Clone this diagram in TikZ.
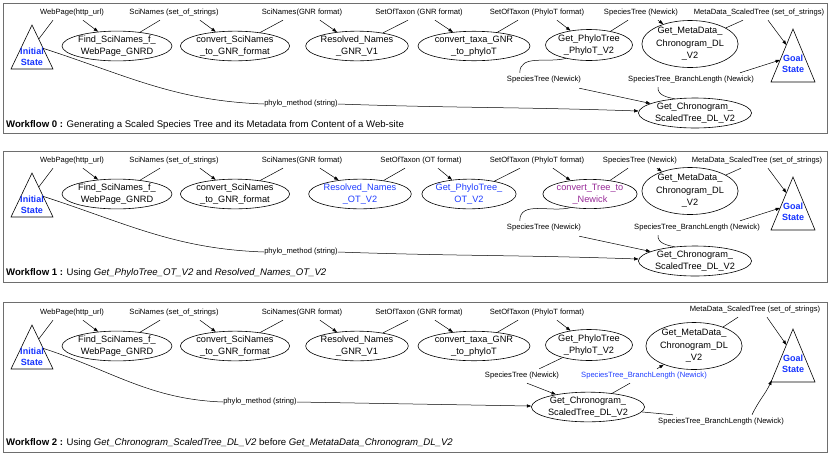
\documentclass[tikz,border=0pt]{standalone}
\usepackage{fontspec}
\setmainfont{Liberation Sans}
\usetikzlibrary{arrows.meta,calc,shapes.geometric}
\definecolor{stblue}{RGB}{20,50,255}
\definecolor{nodeblue}{RGB}{30,60,255}
\definecolor{nodepurple}{RGB}{150,40,150}
\definecolor{panelgray}{RGB}{110,110,110}
\tikzset{
  proc/.style={ellipse, draw, line width=0.6pt, inner sep=0pt, align=center,
    font=\fontsize{9.2}{12.5}\selectfont},
  dlabel/.style={inner sep=0pt, minimum height=14pt, font=\fontsize{7.6}{9}\selectfont},
  conn/.style={line width=0.5pt},
  conarrow/.style={conn, -{Triangle[length=4.5pt,width=3.2pt]}},
  statetext/.style={font=\bfseries\fontsize{9}{10.5}\selectfont, text=stblue, align=center, inner sep=0pt},
  tri/.style={draw, line width=0.6pt, line join=miter},
  panelbox/.style={draw=panelgray, line width=0.9pt},
  captxt/.style={anchor=west, inner sep=0pt, font=\fontsize{9.6}{11}\selectfont}
}
\newcommand{\wfleft}[1]{%
  \coordinate (#1iA) at (32,25);
  \coordinate (#1iL) at (11,69);
  \coordinate (#1iR) at (53,69);
  \draw[tri] (#1iA) -- (#1iL) -- (#1iR) -- cycle;
  \node[statetext] (#1ini) at (32,57) {Initial\\State};
  \coordinate (#1iO1) at ($(#1iA)!0.32!(#1iR)$);
  \coordinate (#1iO2) at ($(#1iA)!0.53!(#1iR)$);
  \node[dlabel] (#1l1) at (72,13) {WebPage(http\_url)};
  \node[proc, minimum width=98pt, minimum height=29pt] (#1e1) at (117,46) {Find\_SciNames\_f\_\\WebPage\_GNRD};
  \node[dlabel] (#1l2) at (174,13) {SciNames (set\_of\_strings)};
  \node[proc, minimum width=96pt, minimum height=29pt] (#1e2) at (235,46) {convert\_SciNames\\\_to\_GNR\_format};
  \node[dlabel] (#1l3) at (302,13) {SciNames(GNR format)};
  \draw[conn] (#1iO1) -- ($(#1l1.south)+(-19,0)$);
  \draw[conarrow] ($(#1l1.south)+(11,0)$) -- (#1e1);
  \draw[conn] (#1e1) -- ($(#1l2.south)+(-14,0)$);
  \draw[conarrow] ($(#1l2.south)+(26,0)$) -- (#1e2);
  \draw[conn] (#1e2) -- ($(#1l3.south)+(-19,0)$);
}
\newcommand{\wfgoal}[1]{%
  \coordinate (#1gA) at (793,29);
  \coordinate (#1gL) at (771,82);
  \coordinate (#1gR) at (815,82);
  \draw[tri] (#1gA) -- (#1gL) -- (#1gR) -- cycle;
  \node[statetext] (#1goal) at (793,64) {Goal\\State};
  \coordinate (#1gI1) at ($(#1gA)!0.3!(#1gL)$);
  \coordinate (#1gI2) at ($(#1gA)!0.585!(#1gL)$);
  \coordinate (#1gI3) at ($(#1gA)!0.97!(#1gL)$);
}
\begin{document}
\begin{tikzpicture}[x=1pt,y=-1pt]
\useasboundingbox (0,0) rectangle (830,456);
% ---------------- Workflow 0 ----------------
\begin{scope}
\draw[panelbox] (3,3) rectangle (827,133);
\wfleft{a}
\node[proc, minimum width=102pt, minimum height=29pt] (ae3) at (357,46) {Resolved\_Names\\\_GNR\_V1};
\node[dlabel] (al4) at (419,13) {SetOfTaxon (GNR format)};
\node[proc, minimum width=112pt, minimum height=29pt] (ae4) at (474,46) {convert\_taxa\_GNR\\\_to\_phyloT};
\node[dlabel] (al5) at (537,13) {SetOfTaxon (PhyloT format)};
\node[proc, minimum width=80pt, minimum height=31pt] (ae5) at (589,45) {Get\_PhyloTree\\\_PhyloT\_V2};
\node[dlabel] (al6) at (641,13) {SpeciesTree (Newick)};
\node[proc, minimum width=84pt, minimum height=45pt] (ae6) at (690,44) {Get\_MetaData\_\\Chronogram\_DL\\\_V2};
\node[dlabel] (al7) at (759,13) {MetaData\_ScaledTree (set\_of\_strings)};
\wfgoal{a}
\node[proc, minimum width=96pt, minimum height=30pt] (ae7) at (695,113) {Get\_Chronogram\_\\ScaledTree\_DL\_V2};
\node[dlabel] (al8) at (544,80) {SpeciesTree (Newick)};
\node[dlabel] (al9) at (691,80) {SpeciesTree\_BranchLength (Newick)};
\node[dlabel] (al10) at (301,104) {phylo\_method (string)};
\draw[conarrow] ($(al3.south)+(18,0)$) -- (ae3);
\draw[conn] (ae3) -- ($(al4.south)+(-11,0)$);
\draw[conarrow] ($(al4.south)+(16,0)$) -- (ae4);
\draw[conn] (ae4) -- ($(al5.south)+(-19,0)$);
\draw[conarrow] ($(al5.south)+(20,0)$) -- (ae5);
\draw[conn] (ae5) -- ($(al6.south)+(-13,0)$);
\draw[conarrow] ($(al6.south)+(17,0)$) -- (ae6);
\draw[conn] (ae6) -- ($(al7.south)+(-16,0)$);
\draw[conarrow] ($(al7.south)+(9,0)$) -- (agI1);
\draw[conn] (aiO2) to[out=-18,in=178] (al10.west);
\draw[conarrow] (al10.east) to[out=-2,in=178] (ae7);
\draw[conn] (ae5.210) to[out=195,in=90] ($(al8.north west)+(13,0)$);
\draw[conarrow] ($(al8.south east)+(-2,1)$) -- (ae7);
\draw[conn] (ae7.145) to[out=170,in=-95] ($(al9.south west)+(30,0)$);
\draw[conarrow] ($(al9.north)+(49,0)$) -- (agI2);
\node[captxt] (acap) at (6,125) {\textbf{Workflow 0 :} Generating a Scaled Species Tree and its Metadata from Content of a Web-site};
\end{scope}
% ---------------- Workflow 1 ----------------
\begin{scope}[yshift=-148pt]
\draw[panelbox] (3,3) rectangle (827,134);
\wfleft{b}
\node[proc, minimum width=98pt, minimum height=29pt, text=nodeblue] (be3) at (360,46) {Resolved\_Names\\\_OT\_V2};
\node[dlabel] (bl4) at (421,13) {SetOfTaxon (OT format)};
\node[proc, minimum width=84pt, minimum height=29pt, text=nodeblue] (be4) at (469,46) {Get\_PhyloTree\_\\OT\_V2};
\node[dlabel] (bl5) at (537,13) {SetOfTaxon (PhyloT format)};
\node[proc, minimum width=94pt, minimum height=29pt, text=nodepurple] (be5) at (590,46) {convert\_Tree\_to\\\_Newick};
\node[dlabel] (bl6) at (640,13) {SpeciesTree (Newick)};
\node[proc, minimum width=84pt, minimum height=45pt] (be6) at (690,43) {Get\_MetaData\_\\Chronogram\_DL\\\_V2};
\node[dlabel] (bl7) at (757,13) {MetaData\_ScaledTree (set\_of\_strings)};
\wfgoal{b}
\node[proc, minimum width=96pt, minimum height=30pt] (be7) at (695,113) {Get\_Chronogram\_\\ScaledTree\_DL\_V2};
\node[dlabel] (bl8) at (544,80) {SpeciesTree (Newick)};
\node[dlabel] (bl9) at (697,80) {SpeciesTree\_BranchLength (Newick)};
\node[dlabel] (bl10) at (301,104) {phylo\_method (string)};
\draw[conarrow] ($(bl3.south)+(18,0)$) -- (be3);
\draw[conn] (be3) -- ($(bl4.south)+(-16,0)$);
\draw[conarrow] ($(bl4.south)+(17,0)$) -- (be4);
\draw[conn] (be4) -- ($(bl5.south)+(-17,0)$);
\draw[conarrow] ($(bl5.south)+(16,0)$) -- (be5);
\draw[conn] (be5) -- ($(bl6.south)+(-12,0)$);
\draw[conarrow] ($(bl6.south)+(17,0)$) -- (be6);
\draw[conn] (be6) -- ($(bl7.south)+(-16,0)$);
\draw[conarrow] ($(bl7.south)+(11,0)$) -- (bgI1);
\draw[conn] (biO2) to[out=-18,in=178] (bl10.west);
\draw[conarrow] (bl10.east) to[out=-2,in=178] (be7);
\draw[conn] (be5.215) to[out=195,in=90] ($(bl8.north west)+(13,0)$);
\draw[conarrow] ($(bl8.south east)+(-2,1)$) -- (be7);
\draw[conn] (be7.145) to[out=170,in=-95] ($(bl9.south west)+(24,0)$);
\draw[conarrow] ($(bl9.north)+(43,0)$) -- (bgI2);
\node[captxt] (bcap) at (6,125) {\textbf{Workflow 1 :} Using \textit{Get\_PhyloTree\_OT\_V2} and \textit{Resolved\_Names\_OT\_V2}};
\end{scope}
% ---------------- Workflow 2 ----------------
\begin{scope}[yshift=-300pt]
\draw[panelbox] (3,2) rectangle (827,152);
\wfleft{c}
\node[proc, minimum width=102pt, minimum height=29pt] (ce3) at (357,46) {Resolved\_Names\\\_GNR\_V1};
\node[dlabel] (cl4) at (419,13) {SetOfTaxon (GNR format)};
\node[proc, minimum width=112pt, minimum height=29pt] (ce4) at (474,46) {convert\_taxa\_GNR\\\_to\_phyloT};
\node[dlabel] (cl5) at (537,13) {SetOfTaxon (PhyloT format)};
\node[proc, minimum width=80pt, minimum height=31pt] (ce5) at (589,45) {Get\_PhyloTree\\\_PhyloT\_V2};
\node[proc, minimum width=96pt, minimum height=47pt] (ce6) at (694,46) {Get\_MetaData\_\\Chronogram\_DL\\\_V2};
\node[dlabel] (cl7) at (755,10) {MetaData\_ScaledTree (set\_of\_strings)};
\wfgoal{c}
\node[proc, minimum width=100pt, minimum height=29pt] (ce7) at (588,107) {Get\_Chronogram\_\\ScaledTree\_DL\_V2};
\node[dlabel] (cl8) at (522,76) {SpeciesTree (Newick)};
\node[dlabel, text=nodeblue] (cl9b) at (644,76) {SpeciesTree\_BranchLength (Newick)};
\node[dlabel] (cl9) at (721,122) {SpeciesTree\_BranchLength (Newick)};
\node[dlabel] (cl10) at (260,102) {phylo\_method (string)};
\draw[conarrow] ($(cl3.south)+(18,0)$) -- (ce3);
\draw[conn] (ce3) -- ($(cl4.south)+(-11,0)$);
\draw[conarrow] ($(cl4.south)+(16,0)$) -- (ce4);
\draw[conn] (ce4) -- ($(cl5.south)+(-19,0)$);
\draw[conarrow] ($(cl5.south)+(20,0)$) -- (ce5);
\draw[conn] (ce5) -- ($(cl8.north east)+(-20,0)$);
\draw[conarrow] ($(cl8.south)+(5,0)$) -- (ce7);
\draw[conn] (ciO2) to[out=-18,in=178] (cl10.west);
\draw[conarrow] (cl10.east) -- (ce7);
\draw[conn] (ce7) -- ($(cl9b.south)+(-14,0)$);
\draw[conarrow] ($(cl9b.north)+(13,0)$) -- (ce6);
\draw[conn] (ce7) -- ($(cl9.north west)+(15,0)$);
\draw[conarrow] ($(cl9.north)+(31,0)$) to[out=65,in=-115] (cgI3);
\draw[conn] (ce6) -- ($(cl7.south)+(-17,0)$);
\draw[conarrow] ($(cl7.south)+(12,0)$) -- (cgI1);
\node[captxt] (ccap) at (6,143) {\textbf{Workflow 2 :} Using \textit{Get\_Chronogram\_ScaledTree\_DL\_V2} before \textit{Get\_MetataData\_Chronogram\_DL\_V2}};
\end{scope}
\end{tikzpicture}
\end{document}
